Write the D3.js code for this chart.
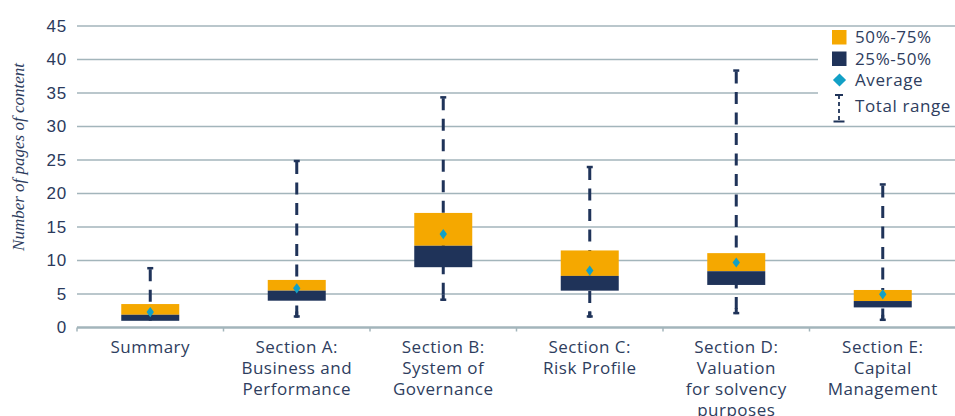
<!DOCTYPE html>
<html>
<head>
<meta charset="utf-8">
<script src="https://cdn.jsdelivr.net/npm/d3@7"></script>
<style>
  html, body { margin: 0; padding: 0; background: #fff; }
  svg { display: block; font-family: "Open Sans", sans-serif; }
  .tick text { fill: #2b3a5c; }
</style>
</head>
<body>
<div id="chart"></div>
<script>
// Data
const categories = [
    ['Summary'],
    ['Section A:', 'Business and', 'Performance'],
    ['Section B:', 'System of', 'Governance'],
    ['Section C:', 'Risk Profile'],
    ['Section D:', 'Valuation', 'for solvency', 'purposes'],
    ['Section E:', 'Capital', 'Management']
];
const minValues = [1, 1.5, 4, 1.5, 2, 1];
const q1Values = [1, 4, 9, 5.5, 6.35, 3];
const medianValues = [1.9, 5.5, 12.2, 7.7, 8.4, 3.95];
const q3Values = [3.5, 7.1, 17.1, 11.5, 11.1, 5.6];
const maxValues = [9, 25, 34.5, 24.1, 38.5, 21.5];
const averageValues = [2.3, 5.85, 13.95, 8.5, 9.7, 4.95];
const yTicks = [0, 5, 10, 15, 20, 25, 30, 35, 40, 45];
const legendLabels = ['50%-75%', '25%-50%', 'Average', 'Total range'];

const width = 955;
const height = 416;
const left = 77;
const right = 956;
const yZero = 327.5;
const yTop = 26;

const orange = '#f5a800';
const navy = '#1f3359';
const cyan = '#12a0c6';
const grid = '#a3b5bb';
const textCol = '#2e3d5e';

const svg = d3.select('#chart').append('svg')
    .attr('width', width)
    .attr('height', height);

const keys = categories.map((c, i) => i);

const x = d3.scaleBand()
    .domain(keys)
    .range([left, right])
    .paddingInner(0)
    .paddingOuter(0);

const y = d3.scaleLinear()
    .domain([0, 45])
    .range([yZero, yTop]);

// Gridlines
svg.append('g')
    .selectAll('line')
    .data(yTicks.filter(d => d > 0))
    .join('line')
    .attr('x1', left)
    .attr('x2', width)
    .attr('y1', d => y(d))
    .attr('y2', d => y(d))
    .attr('stroke', grid)
    .attr('stroke-width', 1.5);

// Y axis labels
const yAxis = d3.axisLeft(y).tickValues(yTicks).tickSize(0).tickPadding(10);
svg.append('g')
    .attr('transform', `translate(${left},0)`)
    .call(yAxis)
    .call(g => g.select('.domain').remove())
    .call(g => g.selectAll('text')
        .attr('font-size', 17)
        .attr('letter-spacing', 0.8)
        .attr('fill', textCol));

// Y axis title
svg.append('text')
    .attr('transform', `translate(24,157) rotate(-90)`)
    .attr('text-anchor', 'middle')
    .attr('font-family', '"Liberation Serif", serif')
    .attr('font-style', 'italic')
    .attr('font-size', 17)
    .attr('fill', textCol)
    .text('Number of pages of content');

// X axis line and boundary ticks
svg.append('line')
    .attr('x1', left).attr('x2', width)
    .attr('y1', yZero).attr('y2', yZero)
    .attr('stroke', grid).attr('stroke-width', 2.5);

svg.append('g')
    .selectAll('line')
    .data(keys)
    .join('line')
    .attr('x1', d => x(d)).attr('x2', d => x(d))
    .attr('y1', yZero).attr('y2', yZero + 4)
    .attr('stroke', grid).attr('stroke-width', 1.5);

// X labels
const xLabels = svg.append('g')
    .selectAll('text')
    .data(keys)
    .join('text')
    .attr('text-anchor', 'middle')
    .attr('font-size', 17)
    .attr('letter-spacing', 0.5)
    .attr('fill', textCol)
    .attr('x', d => x(d) + x.bandwidth() / 2)
    .attr('y', 352.5);
xLabels.selectAll('tspan')
    .data(d => categories[d])
    .join('tspan')
    .attr('x', function () { return d3.select(this.parentNode).attr('x'); })
    .attr('dy', (d, i) => i === 0 ? 0 : 21)
    .text(d => d);

// Whiskers (drawn behind the boxes)
const boxW = 58;
const cx = d => x(d) + x.bandwidth() / 2;

const whisk = svg.append('g');
whisk.selectAll('line.w')
    .data(keys)
    .join('line')
    .attr('class', 'w')
    .attr('x1', cx).attr('x2', cx)
    .attr('y1', d => y(maxValues[d]) + 2)
    .attr('y2', d => y(minValues[d]))
    .attr('stroke', navy)
    .attr('stroke-width', 3)
    .attr('stroke-dasharray', '12,8.5');
whisk.selectAll('line.capTop')
    .data(keys)
    .join('line')
    .attr('class', 'capTop')
    .attr('x1', d => cx(d) - 3).attr('x2', d => cx(d) + 3)
    .attr('y1', d => y(maxValues[d]) + 1).attr('y2', d => y(maxValues[d]) + 1)
    .attr('stroke', navy).attr('stroke-width', 2.5);
whisk.selectAll('line.capBot')
    .data(keys.filter(d => minValues[d] < q1Values[d]))
    .join('line')
    .attr('class', 'capBot')
    .attr('x1', d => cx(d) - 3).attr('x2', d => cx(d) + 3)
    .attr('y1', d => y(minValues[d]) - 1).attr('y2', d => y(minValues[d]) - 1)
    .attr('stroke', navy).attr('stroke-width', 2.5);
whisk.selectAll('line.low')
    .data(keys.filter(d => minValues[d] < q1Values[d]))
    .join('line')
    .attr('class', 'low')
    .attr('x1', cx).attr('x2', cx)
    .attr('y1', d => y(minValues[d]) - 6)
    .attr('y2', d => y(minValues[d]))
    .attr('stroke', navy).attr('stroke-width', 3);

// Boxes
svg.append('g')
    .selectAll('rect')
    .data(keys)
    .join('rect')
    .attr('x', d => cx(d) - boxW / 2)
    .attr('width', boxW)
    .attr('y', d => y(q3Values[d]))
    .attr('height', d => y(medianValues[d]) - y(q3Values[d]))
    .attr('fill', orange);

svg.append('g')
    .selectAll('rect')
    .data(keys)
    .join('rect')
    .attr('x', d => cx(d) - boxW / 2)
    .attr('width', boxW)
    .attr('y', d => y(medianValues[d]))
    .attr('height', d => y(q1Values[d]) - y(medianValues[d]))
    .attr('fill', navy);

// Average diamonds
const diamond = d3.symbol().type(d3.symbolDiamond2).size(55);
svg.append('g')
    .selectAll('path')
    .data(keys)
    .join('path')
    .attr('d', diamond)
    .attr('transform', d => `translate(${cx(d)},${y(averageValues[d])}) scale(0.8,1.1)`)
    .attr('fill', cyan);

// Legend
const lg = svg.append('g');
lg.append('rect')
    .attr('x', 818).attr('y', 29).attr('width', 137).attr('height', 94)
    .attr('fill', '#fff');
lg.append('rect').attr('x', 832).attr('y', 30).attr('width', 14.5).attr('height', 14.5).attr('fill', orange);
lg.append('rect').attr('x', 832).attr('y', 51.5).attr('width', 14.5).attr('height', 14.5).attr('fill', navy);
lg.append('path')
    .attr('d', d3.symbol().type(d3.symbolDiamond2).size(110))
    .attr('transform', 'translate(839.5,80)')
    .attr('fill', cyan);
lg.append('line').attr('x1', 835).attr('x2', 843).attr('y1', 95).attr('y2', 95)
    .attr('stroke', navy).attr('stroke-width', 2);
lg.append('line').attr('x1', 833.5).attr('x2', 844.5).attr('y1', 121.5).attr('y2', 121.5)
    .attr('stroke', navy).attr('stroke-width', 2);
lg.append('line').attr('x1', 839).attr('x2', 839).attr('y1', 95).attr('y2', 121.5)
    .attr('stroke', navy).attr('stroke-width', 1.8).attr('stroke-dasharray', '4,3');

const legendY = [37.5, 59, 80.5, 106];
lg.selectAll('text')
    .data(legendLabels)
    .join('text')
    .attr('x', 855)
    .attr('y', (d, i) => legendY[i])
    .attr('dy', '0.35em')
    .attr('font-size', 17)
    .attr('letter-spacing', 0.6)
    .attr('fill', textCol)
    .text(d => d);
</script>
</body>
</html>
